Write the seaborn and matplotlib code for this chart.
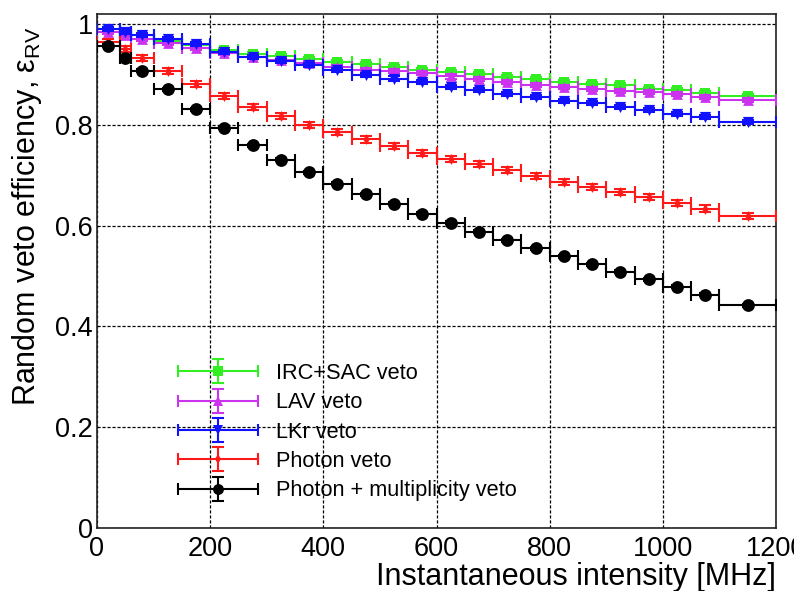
import numpy as np
import pandas as pd
import matplotlib
matplotlib.use("Agg")
import matplotlib.pyplot as plt
import seaborn as sns
from matplotlib.lines import Line2D
from matplotlib.ticker import MultipleLocator, FixedLocator
from matplotlib.container import ErrorbarContainer
from matplotlib.legend_handler import HandlerErrorbar

# ---------------- data ----------------
bin_edges = [0, 40, 60, 100, 150, 200, 250, 300, 350, 400, 450, 500, 550, 600,
             650, 700, 750, 800, 850, 900, 950, 1000, 1050, 1100, 1200]
intensity = [20, 50, 80, 125, 175, 225, 275, 325, 375, 425, 475, 525, 575, 625,
             675, 725, 775, 825, 875, 925, 975, 1025, 1075, 1150]

eff_irc_sac = [0.990, 0.985, 0.978, 0.966, 0.958, 0.948, 0.941, 0.936, 0.931, 0.925,
               0.920, 0.914, 0.909, 0.904, 0.901, 0.895, 0.891, 0.885, 0.882, 0.879,
               0.872, 0.870, 0.864, 0.858]
eff_lav = [0.984, 0.978, 0.971, 0.962, 0.952, 0.942, 0.935, 0.929, 0.922, 0.915,
           0.909, 0.906, 0.902, 0.896, 0.891, 0.885, 0.880, 0.876, 0.872, 0.868,
           0.865, 0.861, 0.855, 0.850]
eff_lkr = [0.991, 0.985, 0.978, 0.970, 0.960, 0.945, 0.935, 0.927, 0.919, 0.909,
           0.899, 0.892, 0.886, 0.876, 0.869, 0.862, 0.855, 0.848, 0.843, 0.836,
           0.829, 0.821, 0.815, 0.806]
eff_photon = [0.965, 0.950, 0.932, 0.907, 0.882, 0.857, 0.835, 0.817, 0.800, 0.786,
              0.771, 0.758, 0.745, 0.733, 0.722, 0.710, 0.698, 0.687, 0.677, 0.666,
              0.656, 0.644, 0.634, 0.620]
eff_photon_mult = [0.957, 0.933, 0.907, 0.871, 0.831, 0.794, 0.760, 0.731, 0.706, 0.683,
                   0.662, 0.643, 0.624, 0.606, 0.588, 0.571, 0.555, 0.539, 0.523, 0.509,
                   0.494, 0.479, 0.463, 0.442]

series_names = ["IRC+SAC veto", "LAV veto", "LKr veto", "Photon veto",
                "Photon + multiplicity veto"]
y_errors = [0.004, 0.004, 0.004, 0.006, 0.003]

x_ticks = [0, 200, 400, 600, 800, 1000, 1200]
x_tick_labels = ["0", "200", "400", "600", "800", "1000", "1200"]
y_ticks = [0, 0.2, 0.4, 0.6, 0.8, 1.0]
y_tick_labels = ["0", "0.2", "0.4", "0.6", "0.8", "1"]

# ---------------- style ----------------
sns.set_theme(style="white")
plt.rcParams["font.family"] = ["Liberation Sans", "DejaVu Sans"]
plt.rcParams["mathtext.fontset"] = "custom"
plt.rcParams["mathtext.rm"] = "Liberation Sans"
plt.rcParams["mathtext.it"] = "Liberation Sans:italic"
plt.rcParams["text.color"] = "black"
plt.rcParams["axes.labelcolor"] = "black"

colors = ["#33ee22", "#cc33ee", "#1111ff", "#ff1a1a", "#000000"]
markers = ["s", "^", "v", "d", "o"]
msizes = [60, 60, 65, 30, 85]

values = [eff_irc_sac, eff_lav, eff_lkr, eff_photon, eff_photon_mult]
rows = []
for name, vals in zip(series_names, values):
    for xv, yv in zip(intensity, vals):
        rows.append({"series": name, "intensity": xv, "eff": yv})
df = pd.DataFrame(rows)

fig = plt.figure(figsize=(7.94, 5.91), dpi=100)
ax = fig.add_axes([97 / 794, 1 - 528 / 591, (776 - 97) / 794, (528 - 14) / 591])

edges = np.array(bin_edges)
xc = np.array(intensity)
xerr = np.vstack([xc - edges[:-1], edges[1:] - xc])

handles = []
for i, name in enumerate(series_names):
    sub = df[df["series"] == name]
    eb = ax.errorbar(sub["intensity"], sub["eff"], xerr=xerr, yerr=y_errors[i],
                     fmt="none", ecolor=colors[i], elinewidth=1.5, capsize=4.5,
                     capthick=1.5, zorder=2 + i)
    sns.scatterplot(data=sub, x="intensity", y="eff", ax=ax, color=colors[i],
                    marker=markers[i], s=msizes[i], linewidth=0, edgecolor=colors[i],
                    zorder=2.5 + i, legend=False)
    mk = Line2D([], [], marker=markers[i], linestyle="none", color=colors[i],
                markersize=np.sqrt(msizes[i]) * 0.85, markeredgewidth=0)
    handles.append((eb, mk))

ax.set_xlim(0, 1200)
ax.set_ylim(0, 1.02)
ax.xaxis.set_major_locator(FixedLocator(x_ticks))
ax.set_xticklabels(x_tick_labels)
ax.yaxis.set_major_locator(FixedLocator(y_ticks))
ax.set_yticklabels(y_tick_labels)
ax.xaxis.set_minor_locator(MultipleLocator(50))
ax.yaxis.set_minor_locator(MultipleLocator(0.05))

ax.tick_params(axis="both", which="major", direction="in", length=13, width=1,
               labelsize=19.5, colors="black")
ax.tick_params(axis="both", which="minor", direction="in", length=6.5, width=1,
               colors="black")
ax.tick_params(axis="x", which="major", pad=6)
ax.tick_params(axis="y", which="major", pad=3)
ax.tick_params(top=False, right=False, which="both")

for sp in ax.spines.values():
    sp.set_color("#222222")
    sp.set_linewidth(1.2)

ax.grid(True, which="major", color="black", linestyle=(0, (2.5, 1.5)),
        linewidth=0.9)
ax.set_axisbelow(True)

ax.set_xlabel("Instantaneous intensity [MHz]", fontsize=22, loc="right",
              labelpad=0, color="black")
ax.set_ylabel("Random veto efficiency, ε$_{\\rm RV}$", fontsize=22, loc="top",
              color="black")
ax.yaxis.set_label_coords(-0.078, (528 - 27) / 514)

leg = ax.legend(handles, series_names, loc="upper left",
                bbox_to_anchor=(178 / 794, 1 - 363 / 591),
                bbox_transform=fig.transFigure, frameon=False, fontsize=15.7,
                handlelength=3.67, handletextpad=0.83, labelspacing=0.38,
                borderpad=0, borderaxespad=0, labelcolor="black",
                handler_map={ErrorbarContainer: HandlerErrorbar(xerr_size=1.83,
                                                                yerr_size=0.55)})

fig.savefig("out.png", dpi=100)
